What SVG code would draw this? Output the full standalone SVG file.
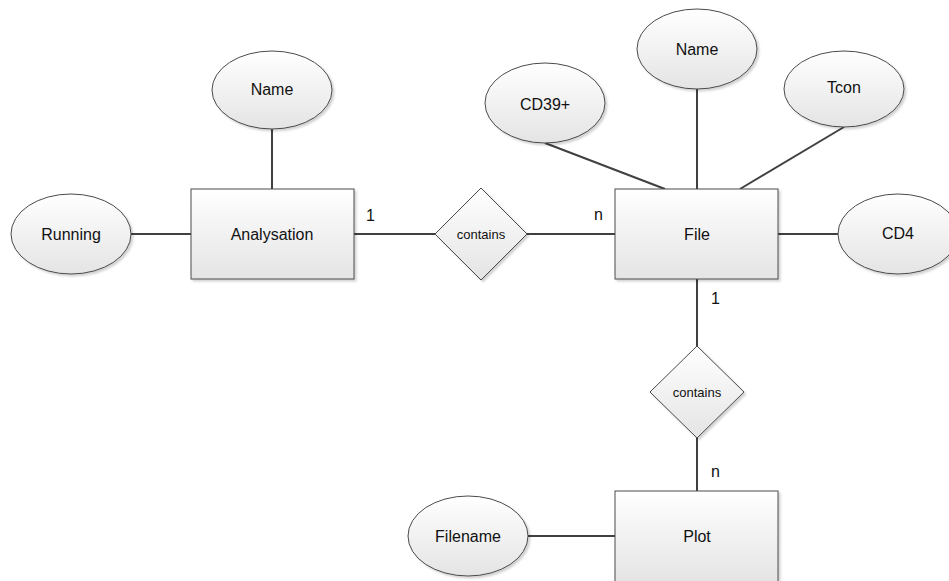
<svg xmlns="http://www.w3.org/2000/svg" width="949" height="581" viewBox="0 0 949 581">
<defs>
<linearGradient id="g" x1="0" y1="0" x2="0" y2="1">
<stop offset="0" stop-color="#ffffff"/>
<stop offset="1" stop-color="#e4e4e4"/>
</linearGradient>
<filter id="sh" x="-10%" y="-10%" width="130%" height="130%">
<feDropShadow dx="2" dy="2" stdDeviation="1" flood-color="#000" flood-opacity="0.18"/>
</filter>
</defs>
<style>
.s{fill:url(#g);stroke:#4a4a4a;stroke-width:1;filter:url(#sh)}
.c{stroke:#404040;stroke-width:2;fill:none}
text{font-family:"Liberation Sans",Arial,sans-serif;font-size:16px;fill:#111;text-anchor:middle;dominant-baseline:central}
.sm{font-size:13px}
.lb{text-anchor:start}
</style>
<rect width="949" height="581" fill="#fff"/>
<g id="connectors">
<line class="c" x1="272" y1="129" x2="272" y2="189"/>
<line class="c" x1="131" y1="234" x2="191" y2="234"/>
<line class="c" x1="354" y1="234" x2="435" y2="234"/>
<line class="c" x1="527" y1="234" x2="615" y2="234"/>
<line class="c" x1="545" y1="143" x2="665" y2="189"/>
<line class="c" x1="697" y1="89" x2="697" y2="189"/>
<line class="c" x1="844" y1="127" x2="740" y2="189"/>
<line class="c" x1="778" y1="234" x2="838" y2="234"/>
<line class="c" x1="697" y1="279" x2="697" y2="346"/>
<line class="c" x1="697" y1="438" x2="697" y2="491"/>
<line class="c" x1="528" y1="536" x2="615" y2="536"/>
<text class="lb" x="366" y="215">1</text>
<text class="lb" x="594" y="214">n</text>
<text class="lb" x="711" y="298">1</text>
<text class="lb" x="711" y="471">n</text>
</g>
<g id="analysation"><rect class="s" x="191" y="189" width="163" height="90"/><text x="272" y="234">Analysation</text></g>
<g id="name1"><ellipse class="s" cx="272" cy="90" rx="60" ry="39"/><text x="272" y="89">Name</text></g>
<g id="running"><ellipse class="s" cx="71" cy="234" rx="60" ry="40"/><text x="71" y="234">Running</text></g>
<g id="contains1"><polygon class="s" points="481,188 527,234 481,280 435,234"/><text class="sm" x="481" y="234">contains</text></g>
<g id="file"><rect class="s" x="615" y="189" width="163" height="90"/><text x="697" y="234">File</text></g>
<g id="cd39"><ellipse class="s" cx="545" cy="103" rx="60" ry="40"/><text x="545" y="104">CD39+</text></g>
<g id="name2"><ellipse class="s" cx="697" cy="49" rx="60" ry="40"/><text x="697" y="49">Name</text></g>
<g id="tcon"><ellipse class="s" cx="844" cy="89" rx="60" ry="38"/><text x="844" y="87">Tcon</text></g>
<g id="cd4"><ellipse class="s" cx="898" cy="234" rx="60" ry="40"/><text x="898" y="233">CD4</text></g>
<g id="contains2"><polygon class="s" points="697,346 744,392 697,438 650,392"/><text class="sm" x="697" y="392">contains</text></g>
<g id="plot"><rect class="s" x="615" y="491" width="163" height="92"/><text x="697" y="536">Plot</text></g>
<g id="filename"><ellipse class="s" cx="468" cy="536" rx="60" ry="40"/><text x="468" y="536">Filename</text></g>
</svg>
